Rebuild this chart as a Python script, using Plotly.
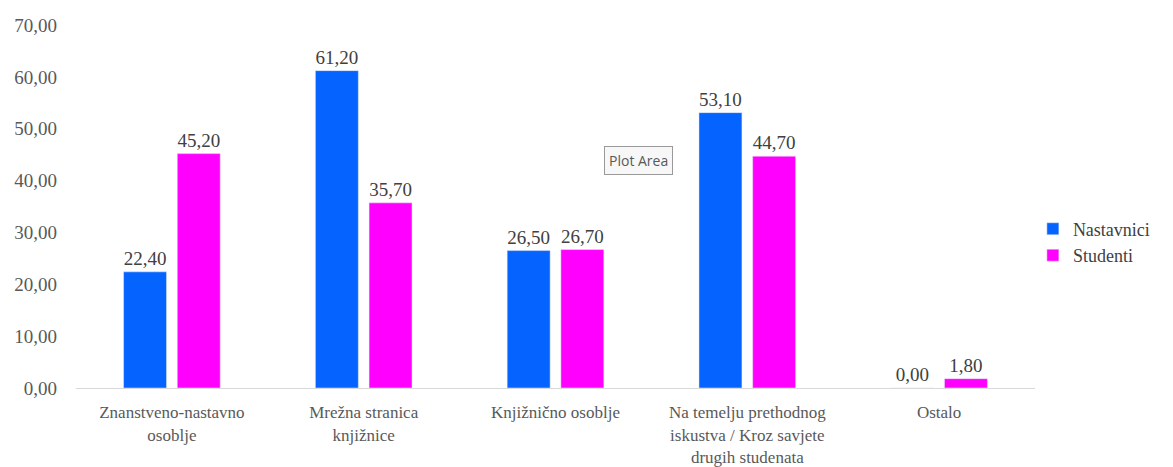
import plotly.graph_objects as go

categories = [
    "Znanstveno-nastavno<br>osoblje",
    "Mrežna stranica<br>knjižnice",
    "Knjižnično osoblje",
    "Na temelju prethodnog<br>iskustva / Kroz savjete<br>drugih studenata",
    "Ostalo",
]
nastavnici = [22.40, 61.20, 26.50, 53.10, 0.00]
studenti = [45.20, 35.70, 26.70, 44.70, 1.80]
y_ticks = [0, 10, 20, 30, 40, 50, 60, 70]

SERIF = "Liberation Serif"

fig = go.Figure()
fig.add_trace(go.Bar(
    name="Nastavnici", x=categories, y=nastavnici,
    marker_color="#0563FF",
    texttemplate="%{y:.2f}", textposition="outside", cliponaxis=False,
    textfont=dict(family=SERIF, size=19, color="#404040"),
))
fig.add_trace(go.Bar(
    name="Studenti", x=categories, y=studenti,
    marker_color="#FF00FF",
    texttemplate="%{y:.2f}", textposition="outside", cliponaxis=False,
    textfont=dict(family=SERIF, size=19, color="#404040"),
))

fig.update_layout(
    width=1173, height=467,
    margin=dict(l=76, r=138, t=25, b=79),
    paper_bgcolor="white", plot_bgcolor="white",
    separators=", ",
    barmode="group", bargap=0.44, bargroupgap=0.2,
    font=dict(family=SERIF, size=18, color="#595959"),
    legend=dict(
        x=1.125, y=0.402, xanchor="right", yanchor="middle",
        font=dict(family=SERIF, size=18, color="#404040"),
        bgcolor="rgba(0,0,0,0)", itemwidth=30,
    ),
    xaxis=dict(
        showgrid=False, showline=True, linecolor="#d9d9d9", linewidth=1,
        ticks="", tickfont=dict(family=SERIF, size=17, color="#595959"),
        tickangle=0, automargin=False, ticklabelstandoff=9,
    ),
    yaxis=dict(
        range=[0, 70], tickvals=y_ticks, tickformat=".2f",
        showgrid=False, zeroline=False, showline=False, ticks="",
        tickfont=dict(family=SERIF, size=19, color="#595959"),
        ticklabelstandoff=18, automargin=False,
    ),
    annotations=[dict(
        x=0.587, y=43.9, xref="paper", yref="y",
        text="Plot Area", showarrow=False,
        font=dict(family="Open Sans", size=14, color="#595959"),
        bordercolor="#9a9a9a", borderwidth=1, borderpad=4,
        bgcolor="#f7f7f7",
    )],
)

fig.write_html(
    "out.html",
    config={"displayModeBar": False},
    post_script="document.body.style.margin='0';document.body.style.padding='0';",
)
